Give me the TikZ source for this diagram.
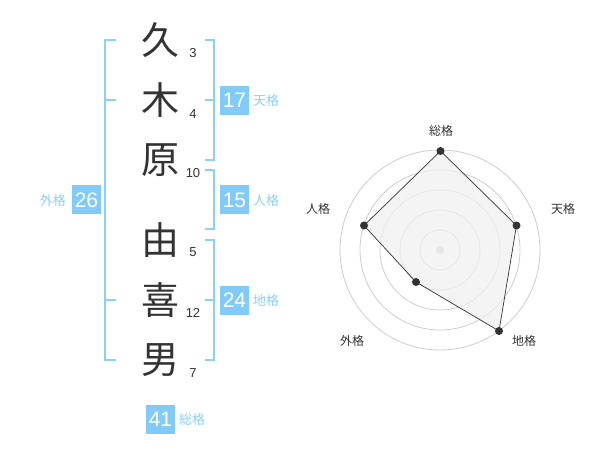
\documentclass[tikz,border=0pt]{standalone}
\usepackage{fontspec}
\setmainfont{Liberation Sans}
\newfontfamily\cjk{Noto Sans CJK JP}
\definecolor{boxblue}{HTML}{82CBF8}
\definecolor{txtblue}{HTML}{8AD0F8}
\definecolor{brblue}{HTML}{8CCFF7}
\definecolor{dark}{HTML}{333333}
\definecolor{ring}{HTML}{CCCCCC}
\definecolor{fillg}{HTML}{F0F0F0}
\tikzset{
  kanji/.style={font=\cjk\fontsize{38}{38}\selectfont, text=dark, inner sep=0pt},
  strk/.style={font=\fontsize{13}{13}\selectfont, text=dark, inner sep=0pt},
  numbox/.style={fill=boxblue, text=white, minimum width=29pt, minimum height=29pt, inner sep=0pt, font=\fontsize{21}{21}\selectfont},
  lbl/.style={font=\cjk\fontsize{13}{13}\selectfont, text=txtblue, inner sep=0pt},
  bracket/.style={draw=brblue, line width=2pt},
  rlbl/.style={font=\cjk\fontsize{12}{12}\selectfont, text=dark, inner sep=0pt},
  dot/.style={circle, fill=dark, inner sep=0pt, minimum size=8pt},
}
\begin{document}
\begin{tikzpicture}[x=1pt,y=-1pt]
\useasboundingbox (0,0) rectangle (600,470);
% kanji
\node[kanji] (k1) at (160,40) {久};
\node[kanji] (k2) at (160,100) {木};
\node[kanji] (k3) at (160,160) {原};
\node[kanji] (k4) at (160,240) {由};
\node[kanji] (k5) at (160,300) {喜};
\node[kanji] (k6) at (160,360) {男};
% strokes
\node[strk] (s1) at (193,53) {3};
\node[strk] (s2) at (193,114) {4};
\node[strk] (s3) at (193,173) {10};
\node[strk] (s4) at (193,252) {5};
\node[strk] (s5) at (193,313) {12};
\node[strk] (s6) at (193,373) {7};
% brackets
\draw[bracket] (116,40) -- (105,40) -- (105,360) -- (116,360);
\draw[bracket] (105,100) -- (116,100);
\draw[bracket] (105,300) -- (116,300);
\draw[bracket] (205,40) -- (214,40) -- (214,160) -- (205,160);
\draw[bracket] (205,100) -- (214,100);
\draw[bracket] (205,170) -- (214,170) -- (214,229) -- (205,229);
\draw[bracket] (205,240) -- (214,240) -- (214,360) -- (205,360);
\draw[bracket] (205,300) -- (214,300);
% boxes
\node[numbox] (ten) at (234.5,100.5) {17};
\node[lbl, anchor=west] (tenl) at (253,101) {天格};
\node[numbox] (jin) at (234.5,200) {15};
\node[lbl, anchor=west] (jinl) at (253,201) {人格};
\node[numbox] (chi) at (234.5,300.5) {24};
\node[lbl, anchor=west] (chil) at (253,301) {地格};
\node[numbox] (gai) at (86.5,200) {26};
\node[lbl, anchor=east] (gail) at (66,201) {外格};
\node[numbox] (sou) at (160.5,419) {41};
\node[lbl, anchor=west] (soul) at (179,420) {総格};
% radar
\coordinate (c) at (440,250);
\foreach \r in {20,40,60,80,100} \draw[ring, line width=0.8pt] (c) circle[radius=\r];
\fill[ring] (c) circle[radius=4];
\coordinate (p1) at (440.5,151);
\coordinate (p2) at (516.5,225.5);
\coordinate (p3) at (499,331);
\coordinate (p4) at (416,282);
\coordinate (p5) at (364,225.5);
\filldraw[fill=fillg, fill opacity=0.75, draw=dark, line width=0.7pt] (p1) -- (p2) -- (p3) -- (p4) -- (p5) -- cycle;
\foreach \p in {p1,p2,p3,p4,p5} \node[dot] at (\p) {};
\node[rlbl] (r1) at (441,131) {総格};
\node[rlbl] (r2) at (563,209) {天格};
\node[rlbl] (r3) at (524,341) {地格};
\node[rlbl] (r4) at (352,341) {外格};
\node[rlbl] (r5) at (318,209) {人格};
\end{tikzpicture}
\end{document}
